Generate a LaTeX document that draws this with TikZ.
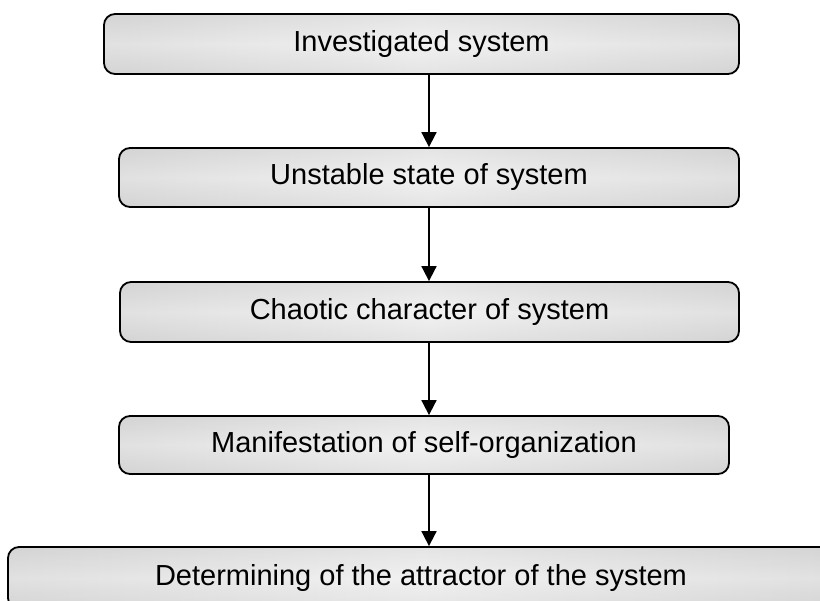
\documentclass[tikz,border=0pt]{standalone}
\usepackage{fontspec}
\setmainfont{Liberation Sans}
\usetikzlibrary{arrows.meta,shadings}
\definecolor{boxedge}{RGB}{212,212,212}
\definecolor{boxmid}{RGB}{242,242,242}
\tikzset{
  stagebox/.style={draw=black, line width=1.8pt, rounded corners=11pt,
    left color=boxedge, right color=boxedge, middle color=boxmid,
    path picture={\shade[top color=boxedge, bottom color=boxedge,
      middle color=boxmid, fill opacity=0.45]
      (path picture bounding box.south west) rectangle
      (path picture bounding box.north east);},
    inner sep=0pt, font=\fontsize{29}{34}\selectfont, text=black},
  flowarrow/.style={line width=1.8pt, -{Triangle[length=15pt,width=15pt]}}
}
\begin{document}
\begin{tikzpicture}[x=1pt,y=-1pt]
  \useasboundingbox (0,0) rectangle (820,601);
  \clip (0,0) rectangle (820,601);
  \node[stagebox, minimum width=635pt, minimum height=60pt] (s1) at (421.5,44) {Investigated system};
  \node[stagebox, minimum width=620pt, minimum height=59pt] (s2) at (429,177.5) {Unstable state of system};
  \node[stagebox, minimum width=619pt, minimum height=60pt] (s3) at (429.5,312) {Chaotic character of system};
  \node[stagebox, minimum width=610pt, minimum height=58pt] (s4) at (424,445) {Manifestation of self-organization};
  \node[stagebox, minimum width=826pt, minimum height=62pt] (s5) at (421,578) {Determining of the attractor of the system};
  \coordinate (ax) at (429,0);
  \draw[flowarrow] (s1.south -| ax) -- (s2.north -| ax);
  \draw[flowarrow] (s2.south -| ax) -- (s3.north -| ax);
  \draw[flowarrow] (s3.south -| ax) -- (s4.north -| ax);
  \draw[flowarrow] (s4.south -| ax) -- (s5.north -| ax);
\end{tikzpicture}
\end{document}
